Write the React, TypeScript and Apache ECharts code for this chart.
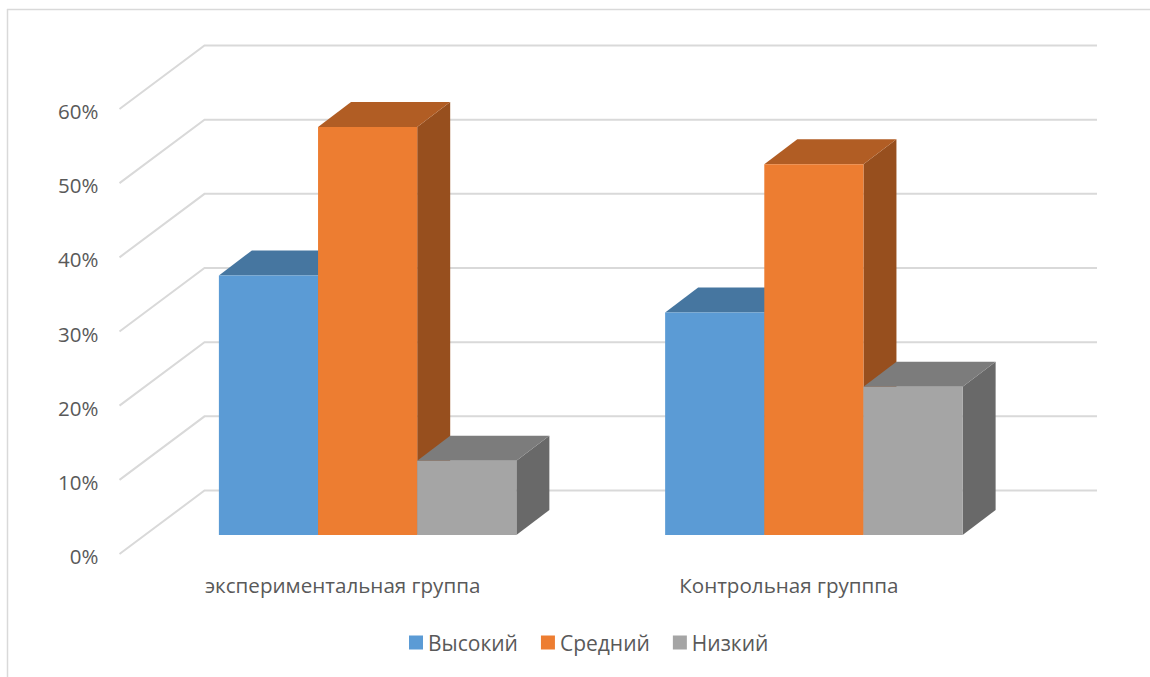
import React, { useEffect, useRef } from "react";
import * as echarts from "echarts";

const categories = ["экспериментальная группа", "Контрольная групппа"];
const highValues = [35, 30];
const midValues = [55, 50];
const lowValues = [10, 20];
const gridValues = [0, 10, 20, 30, 40, 50, 60];
const seriesNames = ["Высокий", "Средний", "Низкий"];
const frontColors = ["#5B9BD5", "#ED7D31", "#A5A5A5"];
const topColors = ["#4676A0", "#B15D24", "#7C7C7C"];
const sideColors = ["#3A6388", "#974F1E", "#696969"];

const FONT = "'Open Sans', sans-serif";
const TEXT = "#595959";
const WALL_DX = 85;
const WALL_DY = -63.5;
const FLOOR_DX = 25;
const FLOOR_DY = -19;
const BAR_DX = 33;
const BAR_DY = -25;
const BAR_SHARE = 0.2222;

const barSeries = (seriesIndex: number, values: number[]) => ({
  type: "custom" as const,
  name: seriesNames[seriesIndex],
  coordinateSystem: "cartesian2d",
  z: 3 + seriesIndex,
  itemStyle: { color: frontColors[seriesIndex] },
  data: values.map((v, i) => [i, v]),
  encode: { x: 0, y: 1 },
  renderItem: (_p: any, api: any) => {
    const top = api.coord([api.value(0), api.value(1)]);
    const base = api.coord([api.value(0), 0]);
    const w = api.size([1, 0])[0] * BAR_SHARE;
    const x0 = top[0] + FLOOR_DX + (seriesIndex - 1.5) * w;
    const x1 = x0 + w;
    const yTop = top[1] + FLOOR_DY;
    const yBase = base[1] + FLOOR_DY;
    const poly = (points: number[][], fill: string) => ({
      type: "polygon",
      shape: { points },
      style: { fill },
    });
    return {
      type: "group",
      children: [
        poly(
          [[x1, yTop], [x1 + BAR_DX, yTop + BAR_DY], [x1 + BAR_DX, yBase + BAR_DY], [x1, yBase]],
          sideColors[seriesIndex],
        ),
        poly(
          [[x0, yTop], [x0 + BAR_DX, yTop + BAR_DY], [x1 + BAR_DX, yTop + BAR_DY], [x1, yTop]],
          topColors[seriesIndex],
        ),
        poly([[x0, yTop], [x1, yTop], [x1, yBase], [x0, yBase]], frontColors[seriesIndex]),
      ],
    };
  },
});

export default function App() {
  const ref = useRef<HTMLDivElement>(null);
  useEffect(() => {
    const chart = echarts.init(ref.current!, undefined, { renderer: "svg" });
    chart.setOption({
      animation: false,
      backgroundColor: "#ffffff",
      textStyle: { fontFamily: FONT },
      grid: { left: 119.5, top: 109, width: 892.5, height: 445 },
      xAxis: {
        type: "category",
        data: categories,
        axisLine: { show: false },
        axisTick: { show: false },
        axisLabel: { color: TEXT, fontSize: 20.6, fontFamily: FONT, margin: 20 },
      },
      yAxis: {
        type: "value",
        min: 0,
        max: 60,
        interval: 10,
        splitLine: { show: false },
        axisLine: { show: false },
        axisTick: { show: false },
        axisLabel: {
          color: TEXT,
          fontSize: 20.5,
          fontFamily: FONT,
          margin: 21,
          formatter: "{value}%",
          verticalAlign: "top",
          lineHeight: 4,
        },
      },
      legend: {
        data: seriesNames,
        left: 404,
        top: 627,
        itemWidth: 14,
        itemHeight: 14,
        itemGap: 23,
        icon: "rect",
        textStyle: { color: TEXT, fontSize: 21, fontFamily: FONT },
      },
      graphic: [
        { type: "line", shape: { x1: 7, y1: 9.5, x2: 1150, y2: 9.5 }, style: { stroke: "#D9D9D9", lineWidth: 1.5 } },
        { type: "line", shape: { x1: 7.5, y1: 9, x2: 7.5, y2: 677 }, style: { stroke: "#D9D9D9", lineWidth: 1.5 } },
      ],
      series: [
        {
          type: "custom",
          name: "сетка",
          coordinateSystem: "cartesian2d",
          z: 1,
          silent: true,
          data: gridValues.map((v) => [0, v]),
          encode: { y: 1 },
          renderItem: (p: any, api: any) => {
            const y = api.coord([0, api.value(1)])[1];
            const x = p.coordSys.x;
            const right = x + p.coordSys.width + WALL_DX;
            return {
              type: "polyline",
              shape: { points: [[x, y], [x + WALL_DX, y + WALL_DY], [right, y + WALL_DY]] },
              style: { stroke: "#D9D9D9", lineWidth: 2, fill: "none" },
            };
          },
        },
        barSeries(0, highValues),
        barSeries(1, midValues),
        barSeries(2, lowValues),
      ],
    });
    return () => chart.dispose();
  }, []);
  return <div ref={ref} style={{ position: "fixed", left: 0, top: 0, width: 1150, height: 677 }} />;
}
